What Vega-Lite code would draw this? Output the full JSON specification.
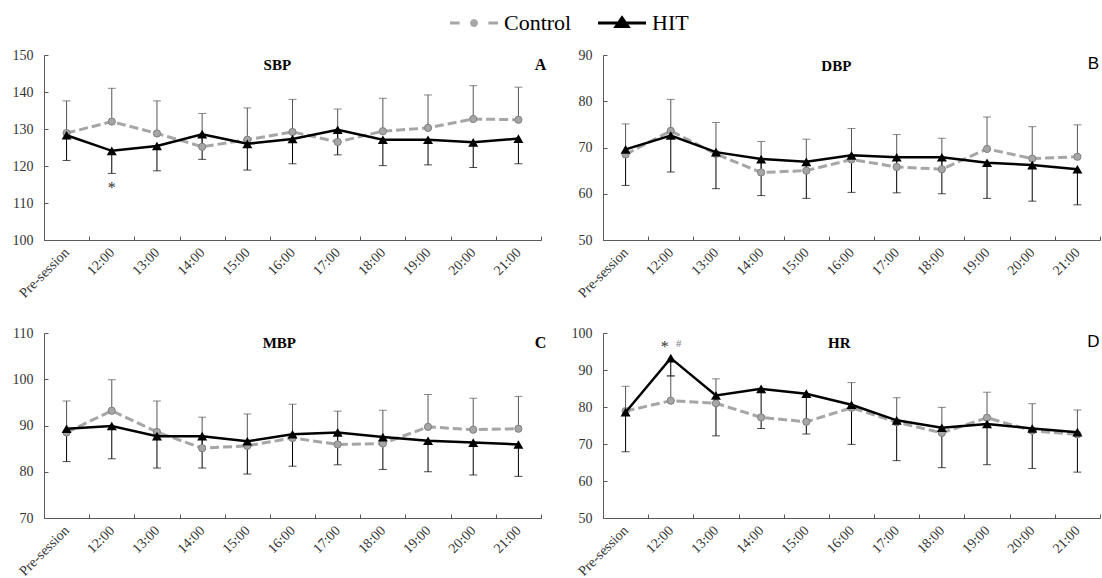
{
"$schema":"https://vega.github.io/schema/vega-lite/v6.json",
"padding":{"left":12,"top":12,"right":5,"bottom":5},
"background":"white",
"config":{"font":"Liberation Serif, Times New Roman, Times, serif","view":{"stroke":null},
"text":{"font":"Liberation Serif, Times New Roman, Times, serif"},
"axis":{"grid":false,"domainColor":"#595959","tickColor":"#595959","tickSize":-4,"labelFont":"Liberation Serif, Times New Roman, Times, serif","labelFontSize":14,"labelColor":"#333333","labelPadding":15}},
"datasets":{
"bp":[
{"panel":"SBP","time":"Pre-session","group":"Control","mean":128.9,"end":137.6},
{"panel":"SBP","time":"12:00","group":"Control","mean":132.0,"end":141.0},
{"panel":"SBP","time":"13:00","group":"Control","mean":128.8,"end":137.6},
{"panel":"SBP","time":"14:00","group":"Control","mean":125.2,"end":134.2},
{"panel":"SBP","time":"15:00","group":"Control","mean":127.1,"end":135.7},
{"panel":"SBP","time":"16:00","group":"Control","mean":129.2,"end":138.0},
{"panel":"SBP","time":"17:00","group":"Control","mean":126.5,"end":135.4},
{"panel":"SBP","time":"18:00","group":"Control","mean":129.4,"end":138.3},
{"panel":"SBP","time":"19:00","group":"Control","mean":130.3,"end":139.2},
{"panel":"SBP","time":"20:00","group":"Control","mean":132.7,"end":141.7},
{"panel":"SBP","time":"21:00","group":"Control","mean":132.5,"end":141.3},
{"panel":"SBP","time":"Pre-session","group":"HIT","mean":128.3,"end":121.5},
{"panel":"SBP","time":"12:00","group":"HIT","mean":124.1,"end":118.0},
{"panel":"SBP","time":"13:00","group":"HIT","mean":125.4,"end":118.7},
{"panel":"SBP","time":"14:00","group":"HIT","mean":128.6,"end":121.8},
{"panel":"SBP","time":"15:00","group":"HIT","mean":126.0,"end":118.9},
{"panel":"SBP","time":"16:00","group":"HIT","mean":127.3,"end":120.6},
{"panel":"SBP","time":"17:00","group":"HIT","mean":129.8,"end":123.0},
{"panel":"SBP","time":"18:00","group":"HIT","mean":127.1,"end":120.1},
{"panel":"SBP","time":"19:00","group":"HIT","mean":127.1,"end":120.3},
{"panel":"SBP","time":"20:00","group":"HIT","mean":126.4,"end":119.6},
{"panel":"SBP","time":"21:00","group":"HIT","mean":127.4,"end":120.6},
{"panel":"DBP","time":"Pre-session","group":"Control","mean":68.5,"end":75.1},
{"panel":"DBP","time":"12:00","group":"Control","mean":73.6,"end":80.4},
{"panel":"DBP","time":"13:00","group":"Control","mean":68.6,"end":75.4},
{"panel":"DBP","time":"14:00","group":"Control","mean":64.6,"end":71.3},
{"panel":"DBP","time":"15:00","group":"Control","mean":65.0,"end":71.8},
{"panel":"DBP","time":"16:00","group":"Control","mean":67.4,"end":74.1},
{"panel":"DBP","time":"17:00","group":"Control","mean":65.8,"end":72.8},
{"panel":"DBP","time":"18:00","group":"Control","mean":65.3,"end":72.0},
{"panel":"DBP","time":"19:00","group":"Control","mean":69.7,"end":76.6},
{"panel":"DBP","time":"20:00","group":"Control","mean":67.6,"end":74.5},
{"panel":"DBP","time":"21:00","group":"Control","mean":68.0,"end":74.9},
{"panel":"DBP","time":"Pre-session","group":"HIT","mean":69.6,"end":61.8},
{"panel":"DBP","time":"12:00","group":"HIT","mean":72.6,"end":64.7},
{"panel":"DBP","time":"13:00","group":"HIT","mean":69.0,"end":61.1},
{"panel":"DBP","time":"14:00","group":"HIT","mean":67.5,"end":59.6},
{"panel":"DBP","time":"15:00","group":"HIT","mean":66.9,"end":59.0},
{"panel":"DBP","time":"16:00","group":"HIT","mean":68.3,"end":60.3},
{"panel":"DBP","time":"17:00","group":"HIT","mean":67.9,"end":60.2},
{"panel":"DBP","time":"18:00","group":"HIT","mean":67.9,"end":60.0},
{"panel":"DBP","time":"19:00","group":"HIT","mean":66.7,"end":59.0},
{"panel":"DBP","time":"20:00","group":"HIT","mean":66.2,"end":58.4},
{"panel":"DBP","time":"21:00","group":"HIT","mean":65.3,"end":57.6},
{"panel":"MBP","time":"Pre-session","group":"Control","mean":88.5,"end":95.3},
{"panel":"MBP","time":"12:00","group":"Control","mean":93.2,"end":99.9},
{"panel":"MBP","time":"13:00","group":"Control","mean":88.6,"end":95.3},
{"panel":"MBP","time":"14:00","group":"Control","mean":85.1,"end":91.8},
{"panel":"MBP","time":"15:00","group":"Control","mean":85.6,"end":92.5},
{"panel":"MBP","time":"16:00","group":"Control","mean":87.3,"end":94.6},
{"panel":"MBP","time":"17:00","group":"Control","mean":85.9,"end":93.1},
{"panel":"MBP","time":"18:00","group":"Control","mean":86.1,"end":93.3},
{"panel":"MBP","time":"19:00","group":"Control","mean":89.7,"end":96.7},
{"panel":"MBP","time":"20:00","group":"Control","mean":89.1,"end":95.9},
{"panel":"MBP","time":"21:00","group":"Control","mean":89.3,"end":96.3},
{"panel":"MBP","time":"Pre-session","group":"HIT","mean":89.3,"end":82.2},
{"panel":"MBP","time":"12:00","group":"HIT","mean":89.9,"end":82.8},
{"panel":"MBP","time":"13:00","group":"HIT","mean":87.7,"end":80.8},
{"panel":"MBP","time":"14:00","group":"HIT","mean":87.7,"end":80.8},
{"panel":"MBP","time":"15:00","group":"HIT","mean":86.6,"end":79.5},
{"panel":"MBP","time":"16:00","group":"HIT","mean":88.1,"end":81.2},
{"panel":"MBP","time":"17:00","group":"HIT","mean":88.5,"end":81.5},
{"panel":"MBP","time":"18:00","group":"HIT","mean":87.5,"end":80.5},
{"panel":"MBP","time":"19:00","group":"HIT","mean":86.7,"end":80.0},
{"panel":"MBP","time":"20:00","group":"HIT","mean":86.3,"end":79.3},
{"panel":"MBP","time":"21:00","group":"HIT","mean":85.9,"end":79.0},
{"panel":"HR","time":"Pre-session","group":"Control","mean":78.9,"end":85.6},
{"panel":"HR","time":"12:00","group":"Control","mean":81.7,"end":88.4},
{"panel":"HR","time":"13:00","group":"Control","mean":81.0,"end":87.6},
{"panel":"HR","time":"14:00","group":"Control","mean":77.2,"end":null},
{"panel":"HR","time":"15:00","group":"Control","mean":76.0,"end":null},
{"panel":"HR","time":"16:00","group":"Control","mean":79.8,"end":86.6},
{"panel":"HR","time":"17:00","group":"Control","mean":75.9,"end":82.5},
{"panel":"HR","time":"18:00","group":"Control","mean":73.0,"end":79.9},
{"panel":"HR","time":"19:00","group":"Control","mean":77.1,"end":84.0},
{"panel":"HR","time":"20:00","group":"Control","mean":73.6,"end":80.9},
{"panel":"HR","time":"21:00","group":"Control","mean":72.6,"end":79.2},
{"panel":"HR","time":"Pre-session","group":"HIT","mean":78.6,"end":67.9},
{"panel":"HR","time":"12:00","group":"HIT","mean":93.2,"end":88.4},
{"panel":"HR","time":"13:00","group":"HIT","mean":83.1,"end":72.2},
{"panel":"HR","time":"14:00","group":"HIT","mean":84.9,"end":74.2},
{"panel":"HR","time":"15:00","group":"HIT","mean":83.6,"end":72.7},
{"panel":"HR","time":"16:00","group":"HIT","mean":80.6,"end":69.9},
{"panel":"HR","time":"17:00","group":"HIT","mean":76.4,"end":65.5},
{"panel":"HR","time":"18:00","group":"HIT","mean":74.4,"end":63.6},
{"panel":"HR","time":"19:00","group":"HIT","mean":75.4,"end":64.4},
{"panel":"HR","time":"20:00","group":"HIT","mean":74.2,"end":63.4},
{"panel":"HR","time":"21:00","group":"HIT","mean":73.2,"end":62.4}
],
"notes":[
{"panel":"SBP","kind":"letter","time":"21:00","y":150,"label":"A"},
{"panel":"DBP","kind":"letter","time":"21:00","y":90,"label":"B"},
{"panel":"MBP","kind":"letter","time":"21:00","y":110,"label":"C"},
{"panel":"HR","kind":"letter","time":"21:00","y":100,"label":"D"},
{"panel":"SBP","kind":"title","time":"15:00","y":150,"label":"SBP"},
{"panel":"DBP","kind":"title","time":"15:00","y":90,"label":"DBP"},
{"panel":"MBP","kind":"title","time":"15:00","y":110,"label":"MBP"},
{"panel":"HR","kind":"title","time":"15:00","y":100,"label":"HR"},
{"panel":"SBP","kind":"sig","time":"12:00","y":114.8,"label":"*"},
{"panel":"HR","kind":"sig","time":"12:00","y":97.1,"label":"*"},
{"panel":"HR","kind":"sig2","time":"12:00","y":97.1,"label":"#"}
]
},
"columns":2,
"spacing":{"row":93,"column":62},
"bounds":"flush",
"concat":[
{
"width":497,"height":185,
"data":{"name":"bp"},
"transform":[{"filter":"datum.panel==='SBP'"}],
"encoding":{
"x":{"field":"time","type":"nominal","sort":["Pre-session","12:00","13:00","14:00","15:00","16:00","17:00","18:00","19:00","20:00","21:00"],"scale":{"paddingInner":0,"paddingOuter":0},"axis":{"title":null,"tickBand":"extent","labelAngle":-45,"labelAlign":"right","labelBaseline":"middle","labelPadding":14,"labelOverlap":false}},
"y":{"field":"mean","type":"quantitative","scale":{"domain":[100,150],"nice":false,"zero":false},"axis":{"title":null,"values":[100,110,120,130,140,150]}}
},
"layer":[
{"transform":[{"filter":"datum.end != null"}],"mark":{"type":"rule","strokeWidth":1},"encoding":{"y2":{"field":"end"},"stroke":{"condition":{"test":"datum.group==='Control'","value":"#555555"},"value":"#000000"}}},
{"transform":[{"filter":"datum.end != null"}],"mark":{"type":"tick","thickness":1,"orient":"horizontal"},"encoding":{"y":{"field":"end","type":"quantitative","axis":{"title":null,"values":[100,110,120,130,140,150]}},"size":{"value":8},"color":{"condition":{"test":"datum.group==='Control'","value":"#555555"},"value":"#000000"}}},
{"transform":[{"filter":"datum.group==='Control'"}],"mark":{"type":"line","strokeDash":[9,4],"strokeWidth":3},"encoding":{"color":{"field":"group","type":"nominal","scale":{"domain":["Control","HIT"],"range":["#A6A6A6","#000000"]},"legend":{"orient":"none","legendX":419,"legendY":-43,"direction":"horizontal","title":null,"padding":0,"labelFont":"Liberation Serif, Times New Roman, Times, serif","labelFontSize":22,"labelColor":"#000000","symbolSize":256,"labelOffset":19,"columnPadding":20,"encode":{"symbols":{"update":{"shape":{"signal":"datum.value === 'Control' ? 'M-3,0H-1.8M1.8,0H3M0.3,0A0.3,0.3 0 1,1 -0.3,0A0.3,0.3 0 1,1 0.3,0' : 'M-3,0H3M0,-0.65L0.75,0.45L-0.75,0.45Z'"},"fill":{"signal":"datum.value === 'Control' ? '#A6A6A6' : '#000000'"},"stroke":{"signal":"datum.value === 'Control' ? '#A6A6A6' : '#000000'"},"strokeWidth":{"value":3},"strokeDash":{"value":[1,0]},"opacity":{"value":1},"size":{"value":256}}}}}}}},
{"transform":[{"filter":"datum.group==='Control'"}],"mark":{"type":"point","shape":"circle","filled":true,"size":52,"fill":"#A6A6A6","stroke":"#7F7F7F","strokeWidth":1,"opacity":1}},
{"transform":[{"filter":"datum.group==='HIT'"}],"mark":{"type":"line","strokeWidth":2.5},"encoding":{"color":{"field":"group","type":"nominal","scale":{"domain":["Control","HIT"],"range":["#A6A6A6","#000000"]},"legend":{"orient":"none","legendX":419,"legendY":-43,"direction":"horizontal","title":null,"padding":0,"labelFont":"Liberation Serif, Times New Roman, Times, serif","labelFontSize":22,"labelColor":"#000000","symbolSize":256,"labelOffset":19,"columnPadding":20,"encode":{"symbols":{"update":{"shape":{"signal":"datum.value === 'Control' ? 'M-3,0H-1.8M1.8,0H3M0.3,0A0.3,0.3 0 1,1 -0.3,0A0.3,0.3 0 1,1 0.3,0' : 'M-3,0H3M0,-0.65L0.75,0.45L-0.75,0.45Z'"},"fill":{"signal":"datum.value === 'Control' ? '#A6A6A6' : '#000000'"},"stroke":{"signal":"datum.value === 'Control' ? '#A6A6A6' : '#000000'"},"strokeWidth":{"value":3},"strokeDash":{"value":[1,0]},"opacity":{"value":1},"size":{"value":256}}}}}}}},
{"transform":[{"filter":"datum.group==='HIT'"}],"mark":{"type":"point","shape":"triangle-up","filled":true,"size":100,"fill":"#000000","opacity":1}},
{"data":{"name":"notes"},"transform":[{"filter":"datum.panel==='SBP' && datum.kind==='title'"}],"mark":{"type":"text","align":"center","baseline":"alphabetic","dx":30,"dy":15,"fontWeight":"bold","fontSize":15,"color":"#000000"},"encoding":{"y":{"field":"y","type":"quantitative","axis":{"title":null,"values":[100,110,120,130,140,150]}},"text":{"field":"label"}}},
{"data":{"name":"notes"},"transform":[{"filter":"datum.panel==='SBP' && datum.kind==='letter'"}],"mark":{"type":"text","align":"center","baseline":"top","dx":22,"dy":2,"fontWeight":"bold","fontSize":16,"color":"#000000"},"encoding":{"y":{"field":"y","type":"quantitative","axis":{"title":null,"values":[100,110,120,130,140,150]}},"text":{"field":"label"}}},
{"data":{"name":"notes"},"transform":[{"filter":"datum.panel==='SBP' && datum.kind==='sig'"}],"mark":{"type":"text","align":"center","baseline":"middle","dy":3,"fontSize":16,"color":"#333333"},"encoding":{"y":{"field":"y","type":"quantitative","axis":{"title":null,"values":[100,110,120,130,140,150]}},"text":{"field":"label"}}}
]
},
{
"width":497,"height":185,
"data":{"name":"bp"},
"transform":[{"filter":"datum.panel==='DBP'"}],
"encoding":{
"x":{"field":"time","type":"nominal","sort":["Pre-session","12:00","13:00","14:00","15:00","16:00","17:00","18:00","19:00","20:00","21:00"],"scale":{"paddingInner":0,"paddingOuter":0},"axis":{"title":null,"tickBand":"extent","labelAngle":-45,"labelAlign":"right","labelBaseline":"middle","labelPadding":14,"labelOverlap":false}},
"y":{"field":"mean","type":"quantitative","scale":{"domain":[50,90],"nice":false,"zero":false},"axis":{"title":null,"values":[50,60,70,80,90]}}
},
"layer":[
{"transform":[{"filter":"datum.end != null"}],"mark":{"type":"rule","strokeWidth":1},"encoding":{"y2":{"field":"end"},"stroke":{"condition":{"test":"datum.group==='Control'","value":"#555555"},"value":"#000000"}}},
{"transform":[{"filter":"datum.end != null"}],"mark":{"type":"tick","thickness":1,"orient":"horizontal"},"encoding":{"y":{"field":"end","type":"quantitative","axis":{"title":null,"values":[50,60,70,80,90]}},"size":{"value":8},"color":{"condition":{"test":"datum.group==='Control'","value":"#555555"},"value":"#000000"}}},
{"transform":[{"filter":"datum.group==='Control'"}],"mark":{"type":"line","strokeDash":[9,4],"strokeWidth":3,"color":"#A6A6A6"}},
{"transform":[{"filter":"datum.group==='Control'"}],"mark":{"type":"point","shape":"circle","filled":true,"size":52,"fill":"#A6A6A6","stroke":"#7F7F7F","strokeWidth":1,"opacity":1}},
{"transform":[{"filter":"datum.group==='HIT'"}],"mark":{"type":"line","strokeWidth":2.5,"color":"#000000"}},
{"transform":[{"filter":"datum.group==='HIT'"}],"mark":{"type":"point","shape":"triangle-up","filled":true,"size":100,"fill":"#000000","opacity":1}},
{"data":{"name":"notes"},"transform":[{"filter":"datum.panel==='DBP' && datum.kind==='title'"}],"mark":{"type":"text","align":"center","baseline":"alphabetic","dx":30,"dy":16,"fontWeight":"bold","fontSize":15,"color":"#000000"},"encoding":{"y":{"field":"y","type":"quantitative","axis":{"title":null,"values":[50,60,70,80,90]}},"text":{"field":"label"}}},
{"data":{"name":"notes"},"transform":[{"filter":"datum.panel==='DBP' && datum.kind==='letter'"}],"mark":{"type":"text","align":"center","baseline":"top","dx":16,"dy":1,"font":"Liberation Sans, Arial, sans-serif","fontSize":17,"color":"#000000"},"encoding":{"y":{"field":"y","type":"quantitative","axis":{"title":null,"values":[50,60,70,80,90]}},"text":{"field":"label"}}}
]
},
{
"width":497,"height":185,
"data":{"name":"bp"},
"transform":[{"filter":"datum.panel==='MBP'"}],
"encoding":{
"x":{"field":"time","type":"nominal","sort":["Pre-session","12:00","13:00","14:00","15:00","16:00","17:00","18:00","19:00","20:00","21:00"],"scale":{"paddingInner":0,"paddingOuter":0},"axis":{"title":null,"tickBand":"extent","labelAngle":-45,"labelAlign":"right","labelBaseline":"middle","labelPadding":14,"labelOverlap":false}},
"y":{"field":"mean","type":"quantitative","scale":{"domain":[70,110],"nice":false,"zero":false},"axis":{"title":null,"values":[70,80,90,100,110]}}
},
"layer":[
{"transform":[{"filter":"datum.end != null"}],"mark":{"type":"rule","strokeWidth":1},"encoding":{"y2":{"field":"end"},"stroke":{"condition":{"test":"datum.group==='Control'","value":"#555555"},"value":"#000000"}}},
{"transform":[{"filter":"datum.end != null"}],"mark":{"type":"tick","thickness":1,"orient":"horizontal"},"encoding":{"y":{"field":"end","type":"quantitative","axis":{"title":null,"values":[70,80,90,100,110]}},"size":{"value":8},"color":{"condition":{"test":"datum.group==='Control'","value":"#555555"},"value":"#000000"}}},
{"transform":[{"filter":"datum.group==='Control'"}],"mark":{"type":"line","strokeDash":[9,4],"strokeWidth":3,"color":"#A6A6A6"}},
{"transform":[{"filter":"datum.group==='Control'"}],"mark":{"type":"point","shape":"circle","filled":true,"size":52,"fill":"#A6A6A6","stroke":"#7F7F7F","strokeWidth":1,"opacity":1}},
{"transform":[{"filter":"datum.group==='HIT'"}],"mark":{"type":"line","strokeWidth":2.5,"color":"#000000"}},
{"transform":[{"filter":"datum.group==='HIT'"}],"mark":{"type":"point","shape":"triangle-up","filled":true,"size":100,"fill":"#000000","opacity":1}},
{"data":{"name":"notes"},"transform":[{"filter":"datum.panel==='MBP' && datum.kind==='title'"}],"mark":{"type":"text","align":"center","baseline":"alphabetic","dx":32,"dy":15,"fontWeight":"bold","fontSize":15,"color":"#000000"},"encoding":{"y":{"field":"y","type":"quantitative","axis":{"title":null,"values":[70,80,90,100,110]}},"text":{"field":"label"}}},
{"data":{"name":"notes"},"transform":[{"filter":"datum.panel==='MBP' && datum.kind==='letter'"}],"mark":{"type":"text","align":"center","baseline":"top","dx":22,"dy":2,"fontWeight":"bold","fontSize":16,"color":"#000000"},"encoding":{"y":{"field":"y","type":"quantitative","axis":{"title":null,"values":[70,80,90,100,110]}},"text":{"field":"label"}}}
]
},
{
"width":497,"height":185,
"data":{"name":"bp"},
"transform":[{"filter":"datum.panel==='HR'"}],
"encoding":{
"x":{"field":"time","type":"nominal","sort":["Pre-session","12:00","13:00","14:00","15:00","16:00","17:00","18:00","19:00","20:00","21:00"],"scale":{"paddingInner":0,"paddingOuter":0},"axis":{"title":null,"tickBand":"extent","labelAngle":-45,"labelAlign":"right","labelBaseline":"middle","labelPadding":14,"labelOverlap":false}},
"y":{"field":"mean","type":"quantitative","scale":{"domain":[50,100],"nice":false,"zero":false},"axis":{"title":null,"values":[50,60,70,80,90,100]}}
},
"layer":[
{"transform":[{"filter":"datum.end != null"}],"mark":{"type":"rule","strokeWidth":1},"encoding":{"y2":{"field":"end"},"stroke":{"condition":{"test":"datum.group==='Control'","value":"#555555"},"value":"#000000"}}},
{"transform":[{"filter":"datum.end != null"}],"mark":{"type":"tick","thickness":1,"orient":"horizontal"},"encoding":{"y":{"field":"end","type":"quantitative","axis":{"title":null,"values":[50,60,70,80,90,100]}},"size":{"value":8},"color":{"condition":{"test":"datum.group==='Control'","value":"#555555"},"value":"#000000"}}},
{"transform":[{"filter":"datum.group==='Control'"}],"mark":{"type":"line","strokeDash":[9,4],"strokeWidth":3,"color":"#A6A6A6"}},
{"transform":[{"filter":"datum.group==='Control'"}],"mark":{"type":"point","shape":"circle","filled":true,"size":52,"fill":"#A6A6A6","stroke":"#7F7F7F","strokeWidth":1,"opacity":1}},
{"transform":[{"filter":"datum.group==='HIT'"}],"mark":{"type":"line","strokeWidth":2.5,"color":"#000000"}},
{"transform":[{"filter":"datum.group==='HIT'"}],"mark":{"type":"point","shape":"triangle-up","filled":true,"size":100,"fill":"#000000","opacity":1}},
{"data":{"name":"notes"},"transform":[{"filter":"datum.panel==='HR' && datum.kind==='title'"}],"mark":{"type":"text","align":"center","baseline":"alphabetic","dx":33,"dy":15,"fontWeight":"bold","fontSize":15,"color":"#000000"},"encoding":{"y":{"field":"y","type":"quantitative","axis":{"title":null,"values":[50,60,70,80,90,100]}},"text":{"field":"label"}}},
{"data":{"name":"notes"},"transform":[{"filter":"datum.panel==='HR' && datum.kind==='letter'"}],"mark":{"type":"text","align":"center","baseline":"top","dx":16,"dy":1,"font":"Liberation Sans, Arial, sans-serif","fontSize":17,"color":"#000000"},"encoding":{"y":{"field":"y","type":"quantitative","axis":{"title":null,"values":[50,60,70,80,90,100]}},"text":{"field":"label"}}},
{"data":{"name":"notes"},"transform":[{"filter":"datum.panel==='HR' && datum.kind==='sig'"}],"mark":{"type":"text","align":"center","baseline":"middle","dx":-6,"dy":3,"fontSize":16,"color":"#333333"},"encoding":{"y":{"field":"y","type":"quantitative","axis":{"title":null,"values":[50,60,70,80,90,100]}},"text":{"field":"label"}}},
{"data":{"name":"notes"},"transform":[{"filter":"datum.panel==='HR' && datum.kind==='sig2'"}],"mark":{"type":"text","align":"center","baseline":"middle","dx":8,"dy":0,"fontSize":11,"color":"#808080"},"encoding":{"y":{"field":"y","type":"quantitative","axis":{"title":null,"values":[50,60,70,80,90,100]}},"text":{"field":"label"}}}
]
}
]
}
